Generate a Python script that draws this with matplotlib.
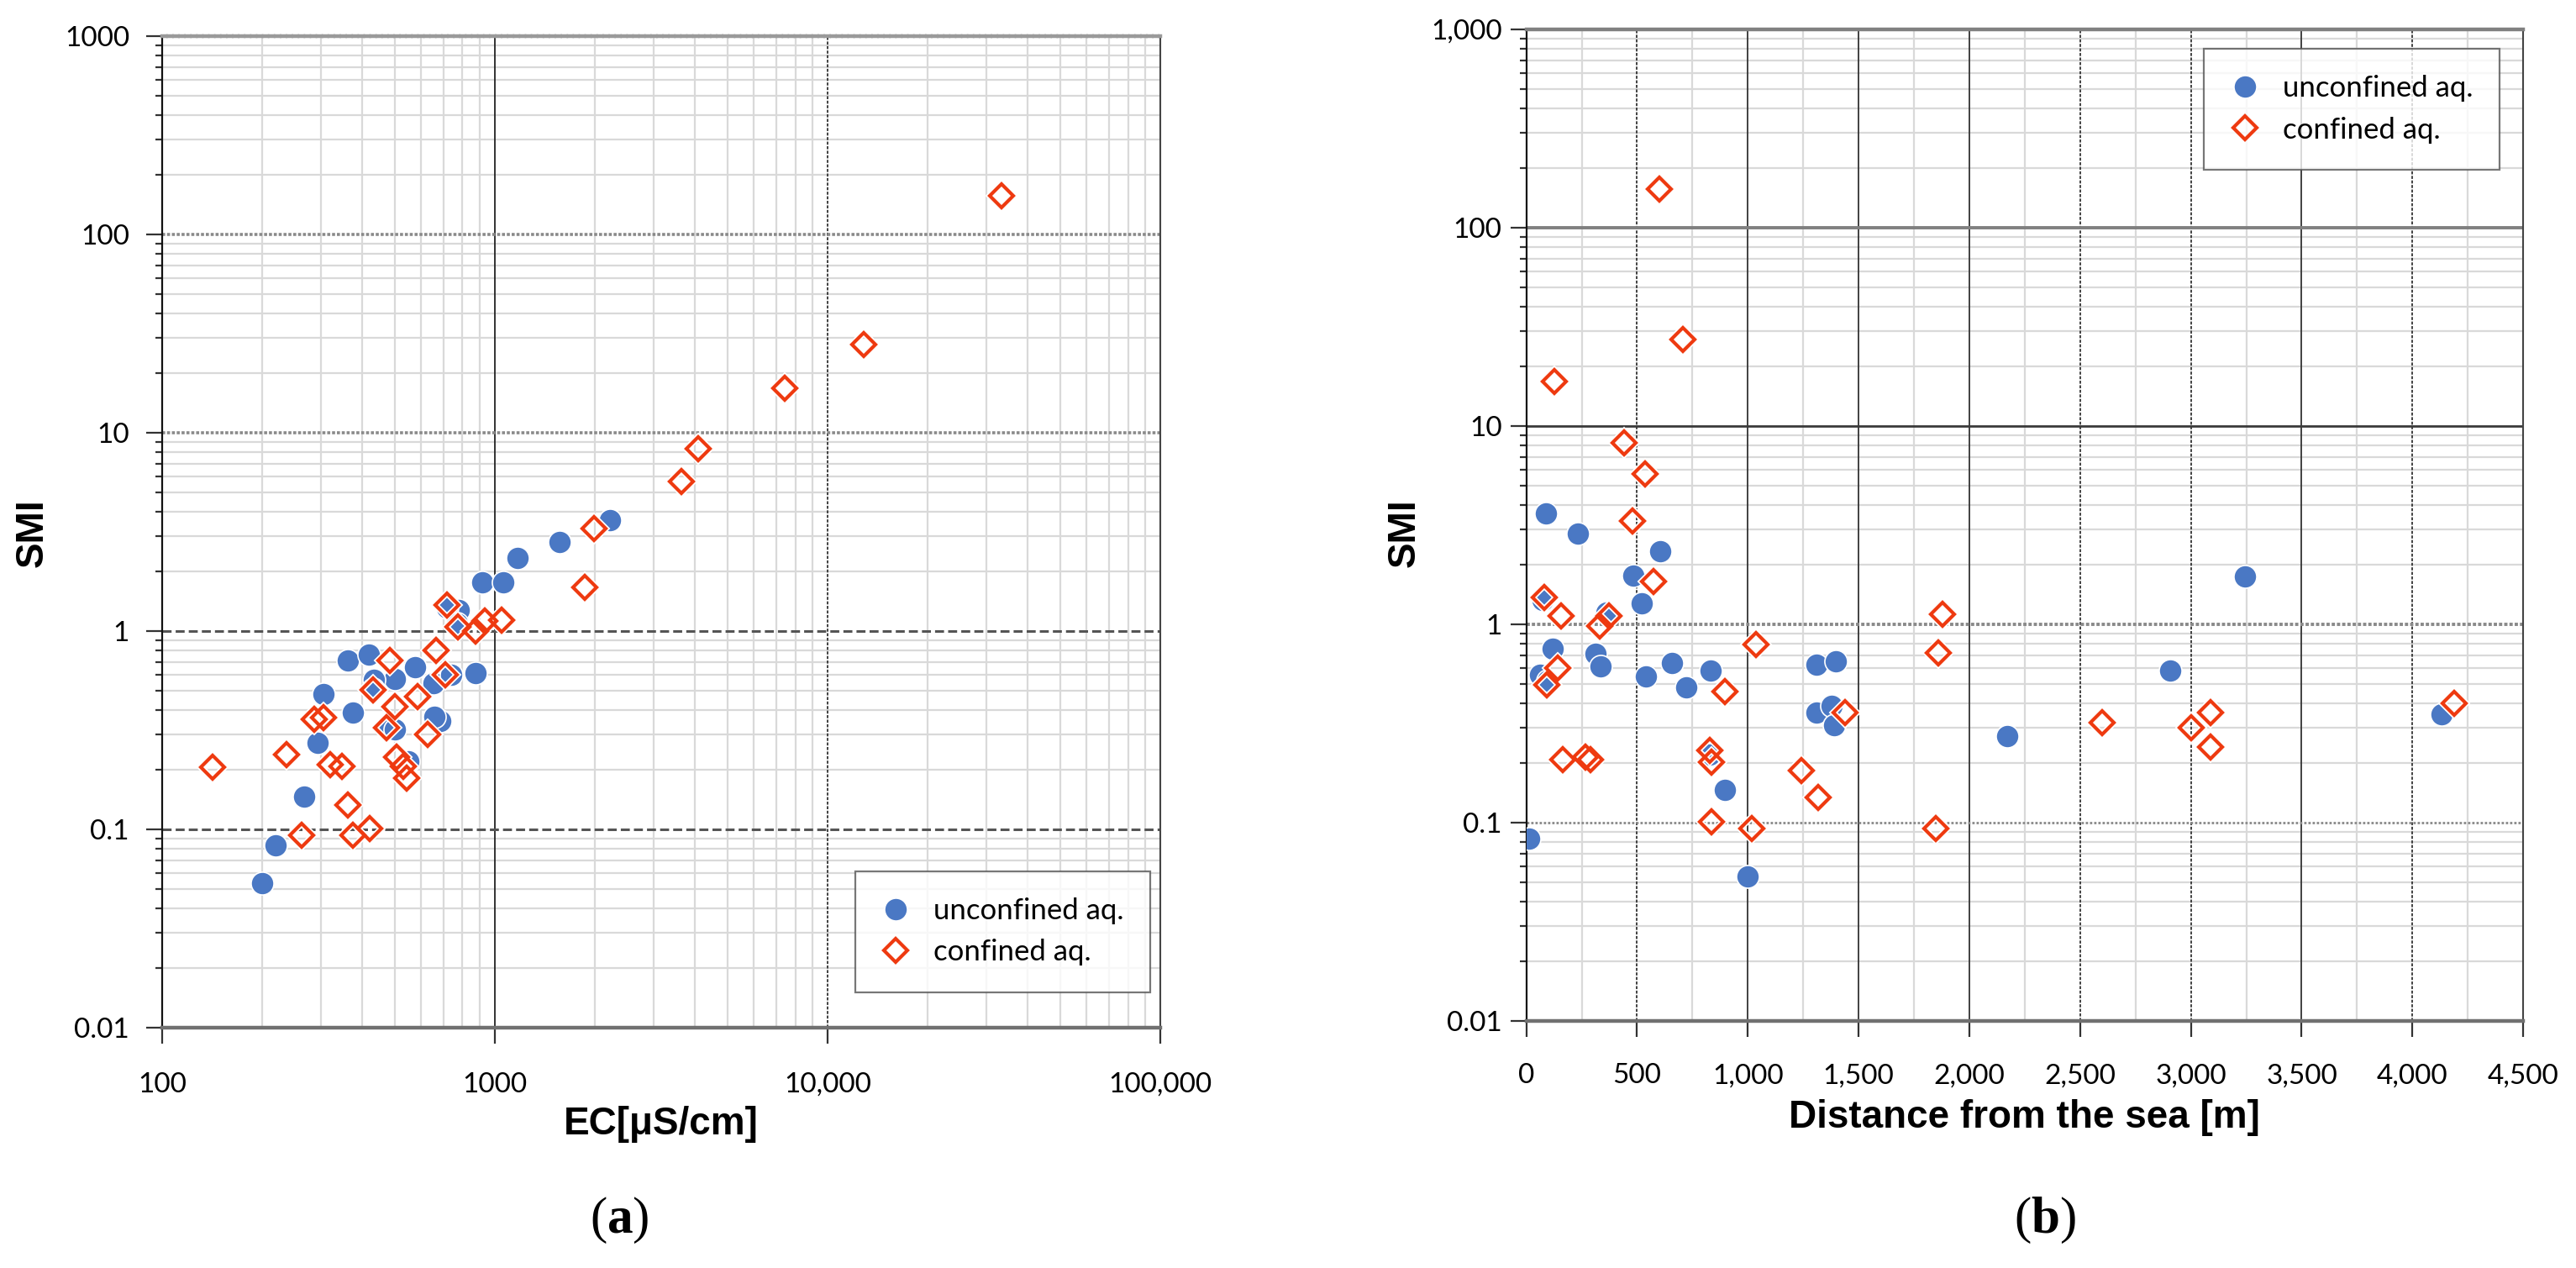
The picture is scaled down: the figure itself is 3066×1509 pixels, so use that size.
import matplotlib
matplotlib.use("Agg")
import matplotlib.pyplot as plt
from matplotlib.lines import Line2D

# ---------------- data ----------------
ec_unconf = [1563, 1168, 916, 1060, 780, 720, 770, 361, 418, 575, 502, 434, 874, 653,
             740, 430, 306, 375, 685, 660, 480, 500, 294, 550, 267, 220, 200, 2220]
smi_unconf_a = [2.80, 2.33, 1.77, 1.77, 1.28, 1.32, 1.09, 0.711, 0.759, 0.656, 0.575, 0.566,
                0.614, 0.548, 0.60, 0.51, 0.481, 0.390, 0.353, 0.37, 0.33, 0.32, 0.272, 0.22,
                0.147, 0.083, 0.0536, 3.61]

ec_conf = [33300, 12850, 7430, 4090, 3640, 1990, 1862, 718, 777, 874, 935, 1050, 483, 666,
           430, 712, 587, 502, 286, 306, 473, 628, 236, 142, 321, 348, 507, 532, 543, 361,
           262, 375, 421]
smi_conf_a = [157, 27.8, 16.8, 8.28, 5.70, 3.28, 1.66, 1.36, 1.05, 1.0, 1.12, 1.14, 0.711,
              0.796, 0.505, 0.604, 0.466, 0.416, 0.359, 0.365, 0.326, 0.300, 0.239, 0.205,
              0.213, 0.207, 0.231, 0.207, 0.181, 0.133, 0.093, 0.093, 0.101]

dist_unconf = [89, 234, 605, 483, 522, 75, 361, 120, 314, 335, 63, 95, 541, 658, 721, 832,
               1309, 1398, 1309, 1379, 1391, 829, 898, 999, 13, 3245, 2170, 2906, 4130]
smi_unconf_b = [3.63, 2.87, 2.34, 1.76, 1.28, 1.33, 1.15, 0.756, 0.709, 0.612, 0.555, 0.52,
                0.546, 0.637, 0.480, 0.583, 0.628, 0.649, 0.358, 0.388, 0.309, 0.22, 0.147,
                0.0534, 0.0828, 1.74, 0.274, 0.587, 0.351]

dist_conf = [599, 707, 127, 440, 538, 478, 573, 80, 156, 373, 333, 1037, 143, 93, 898, 1439,
             165, 291, 268, 829, 835, 837, 1018, 1243, 1316, 1880, 1860, 1850, 2600, 3000,
             3090, 3090, 4190]
smi_conf_b = [157, 27.4, 16.8, 8.26, 5.73, 3.32, 1.65, 1.37, 1.10, 1.10, 0.98, 0.79, 0.602,
              0.495, 0.460, 0.358, 0.208, 0.208, 0.215, 0.231, 0.202, 0.1007, 0.0934, 0.183,
              0.134, 1.13, 0.72, 0.093, 0.32, 0.30, 0.36, 0.24, 0.40]

series_labels = ["unconfined aq.", "confined aq."]

y_ticks = [0.01, 0.1, 1, 10, 100, 1000]
y_labels_a = ["0.01", "0.1", "1", "10", "100", "1000"]
y_labels_b = ["0.01", "0.1", "1", "10", "100", "1,000"]
x_ticks_a = [100, 1000, 10000, 100000]
x_labels_a = ["100", "1000", "10,000", "100,000"]
x_ticks_b = [0, 500, 1000, 1500, 2000, 2500, 3000, 3500, 4000, 4500]
x_labels_b = ["0", "500", "1,000", "1,500", "2,000", "2,500", "3,000", "3,500", "4,000", "4,500"]

# ---------------- style ----------------
BLUE = "#4A78C4"
RED = "#EE3A10"
MINOR = "#d9d9d9"
TICKFONT = "Lato"
MS_O = 19.5
MS_D = 14.5

plt.rcParams["mathtext.fontset"] = "custom"
plt.rcParams["mathtext.rm"] = "Liberation Serif"
plt.rcParams["mathtext.bf"] = "Liberation Serif:bold"

fig = plt.figure(figsize=(30.66, 15.09), dpi=100)
ax_a = fig.add_axes([0.0629, 0.1895, 0.3875, 0.782])
ax_b = fig.add_axes([0.5925, 0.1948, 0.3870, 0.782])


def minor_decades():
    vals = []
    for d in [0.01, 0.1, 1, 10, 100]:
        for k in range(2, 10):
            vals.append(d * k)
    return vals


def draw_points(ax, xu, yu, xc, yc):
    ax.plot(xu, yu, linestyle="none", marker="o", ms=MS_O, mfc=BLUE, mec="white",
            mew=1.2, zorder=5)
    ax.plot(xc, yc, linestyle="none", marker="D", ms=MS_D, mfc="none", mec="white",
            mew=5.5, zorder=6)
    ax.plot(xc, yc, linestyle="none", marker="D", ms=MS_D, mfc="none", mec=RED,
            mew=3.0, zorder=7)


def common_y(ax, labels, pad):
    ax.set_yscale("log")
    ax.set_ylim(0.01, 1000)
    ax.set_yticks(y_ticks)
    ax.set_yticklabels(labels)
    ax.set_yticks(minor_decades(), minor=True)
    ax.yaxis.set_minor_formatter(matplotlib.ticker.NullFormatter())
    ax.tick_params(axis="y", which="major", direction="out", length=14, width=1.6,
                   color="#333333", pad=pad, labelsize=24)
    ax.tick_params(axis="y", which="minor", direction="out", length=6, width=1.6,
                   color="#333333")
    for v in minor_decades():
        ax.axhline(v, color=MINOR, lw=1.6, zorder=1)
    for lab in ax.get_yticklabels():
        lab.set_fontfamily(TICKFONT)


# ---------------- panel (a) ----------------
ax = ax_a
ax.set_xscale("log")
ax.set_xlim(100, 100000)
common_y(ax, y_labels_a, 14)
ax.set_xticks(x_ticks_a)
ax.set_xticklabels(x_labels_a)
ax.xaxis.set_minor_locator(matplotlib.ticker.NullLocator())
ax.tick_params(axis="x", which="major", direction="out", length=14, width=1.6,
               color="#333333", pad=24, labelsize=24)
for lab in ax.get_xticklabels():
    lab.set_fontfamily(TICKFONT)
for d in [100, 1000, 10000]:
    for k in range(2, 10):
        ax.axvline(d * k, color=MINOR, lw=1.6, zorder=1)
ax.axvline(1000, color="#222222", lw=1.3, zorder=2)
ax.axvline(10000, color="#333333", lw=1.3, ls=(0, (2, 1)), zorder=2)
for v in [10, 100]:
    ax.axhline(v, color="#8a8a8a", lw=2.6, ls=(0, (1, 0.6)), zorder=2)
for v in [0.1, 1]:
    ax.axhline(v, color="#555555", lw=2.2, ls=(0, (3.5, 1.6)), zorder=2)
ax.spines["left"].set_color("#111111")
ax.spines["left"].set_linewidth(1.6)
ax.spines["bottom"].set_color("#707070")
ax.spines["bottom"].set_linewidth(3.2)
ax.spines["top"].set_color("#9a9a9a")
ax.spines["top"].set_linewidth(3.2)
ax.spines["top"].set_linestyle((0, (1, 0.6)))
ax.spines["right"].set_color("#444444")
ax.spines["right"].set_linewidth(1.5)
ax.spines["right"].set_linestyle((0, (1, 1)))
draw_points(ax, ec_unconf, smi_unconf_a, ec_conf, smi_conf_a)

# ---------------- panel (b) ----------------
ax = ax_b
ax.set_xlim(0, 4500)
common_y(ax, y_labels_b, 7)
ax.set_xticks(x_ticks_b)
ax.set_xticklabels(x_labels_b)
ax.tick_params(axis="x", which="major", direction="out", length=14, width=1.6,
               color="#333333", pad=22, labelsize=24)
for lab in ax.get_xticklabels():
    lab.set_fontfamily(TICKFONT)
for v in range(250, 4500, 500):
    ax.axvline(v, color=MINOR, lw=1.6, zorder=1)
solid_x = [1000, 1500, 2000, 3500]
for v in [500, 1000, 1500, 2000, 2500, 3000, 3500, 4000]:
    if v in solid_x:
        ax.axvline(v, color="#333333", lw=1.3, zorder=2)
    else:
        ax.axvline(v, color="#333333", lw=1.3, ls=(0, (2, 1)), zorder=2)
ax.axhline(100, color="#808080", lw=2.8, zorder=2)
ax.axhline(10, color="#3a3a3a", lw=2.0, zorder=2)
ax.axhline(1, color="#8a8a8a", lw=2.8, ls=(0, (1, 0.6)), zorder=2)
ax.axhline(0.1, color="#8a8a8a", lw=2.0, ls=(0, (1, 0.8)), zorder=2)
ax.spines["left"].set_color("#111111")
ax.spines["left"].set_linewidth(1.6)
ax.spines["bottom"].set_color("#707070")
ax.spines["bottom"].set_linewidth(3.2)
ax.spines["top"].set_color("#808080")
ax.spines["top"].set_linewidth(3.2)
ax.spines["right"].set_color("#444444")
ax.spines["right"].set_linewidth(1.5)
ax.spines["right"].set_linestyle((0, (1, 1)))
draw_points(ax, dist_unconf, smi_unconf_b, dist_conf, smi_conf_b)

# ---------------- legends ----------------
handles = [
    Line2D([], [], linestyle="none", marker="o", ms=MS_O, mfc=BLUE, mec="white", mew=1.2),
    Line2D([], [], linestyle="none", marker="D", ms=MS_D, mfc="none", mec=RED, mew=3.0),
]
leg_kw = dict(frameon=True, fancybox=False, handlelength=1.0, handletextpad=0.8,
              borderpad=0.9, labelspacing=0.5, borderaxespad=0.0,
              prop={"family": TICKFONT, "size": 25})
leg = ax_a.legend(handles, series_labels, loc="lower right",
                  bbox_to_anchor=(0.99, 0.036), **leg_kw)
leg.get_frame().set_edgecolor("#555555")
leg.get_frame().set_linewidth(1.6)
leg.set_zorder(10)
leg = ax_b.legend(handles, series_labels, loc="upper right",
                  bbox_to_anchor=(0.976, 0.9805), **leg_kw)
leg.get_frame().set_edgecolor("#555555")
leg.get_frame().set_linewidth(1.6)
leg.set_zorder(10)

# ---------------- labels ----------------
lab_kw = dict(family="Liberation Sans", weight="bold", size=33, ha="center", va="center")
fig.text(0.0127, 0.580, "SMI", rotation=90, **lab_kw)
fig.text(0.5453, 0.580, "SMI", rotation=90, **lab_kw)
fig.text(0.2567, 0.1133, "EC[\u03bcS/cm]", **lab_kw)
fig.text(0.7857, 0.1186, "Distance from the sea [m]", **lab_kw)
fig.text(0.2404, 0.0378, r"$\mathrm{(}\mathbf{a}\mathrm{)}$", size=44, ha="center", va="center")
fig.text(0.7940, 0.0378, r"$\mathrm{(}\mathbf{b}\mathrm{)}$", size=44, ha="center", va="center")

fig.savefig("out.png", dpi=100, facecolor="white")
